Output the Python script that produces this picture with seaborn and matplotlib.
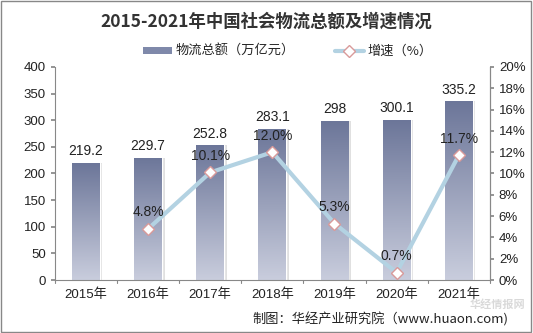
import matplotlib
matplotlib.use("Agg")
import matplotlib.pyplot as plt
import seaborn as sns
import numpy as np
import pandas as pd
from matplotlib.patches import Rectangle
from matplotlib.lines import Line2D
from matplotlib.colors import LinearSegmentedColormap

years = ["2015年", "2016年", "2017年", "2018年", "2019年", "2020年", "2021年"]
totals = [219.2, 229.7, 252.8, 283.1, 298, 300.1, 335.2]
rate_years = ["2016年", "2017年", "2018年", "2019年", "2020年", "2021年"]
rates = [4.8, 10.1, 12.0, 5.3, 0.7, 11.7]
left_ticks = [0, 50, 100, 150, 200, 250, 300, 350, 400]
right_ticks = [0, 2, 4, 6, 8, 10, 12, 14, 16, 18, 20]

sns.set_theme(style="white")
plt.rcParams['font.family'] = ['Noto Sans CJK SC', 'DejaVu Sans']
NUM = ['Liberation Sans', 'Noto Sans CJK SC']

fig = plt.figure(figsize=(5.33, 3.33), dpi=100)
ax = fig.add_axes([0.103, 0.159, 0.816, 0.64])

df = pd.DataFrame({"year": years, "total": totals})
sns.barplot(data=df, x="year", y="total", ax=ax, width=0.45, color="#7f89aa",
            saturation=1, zorder=2)

cmap = LinearSegmentedColormap.from_list("g", ["#c9cddd", "#6c7699"])
grad = np.linspace(0, 1, 256).reshape(-1, 1)
for p in ax.patches:
    x0, y0 = p.get_x(), p.get_y()
    w, h = p.get_width(), p.get_height()
    sh = Rectangle((x0 + 0.04, y0), w, h, facecolor="#000000", alpha=0.12,
                   edgecolor="none", zorder=1.5)
    ax.add_patch(sh)
    im = ax.imshow(grad, extent=[x0, x0 + w, y0, y0 + h], origin="lower",
                   cmap=cmap, aspect="auto", zorder=2.1)
    im.set_clip_path(p)
    p.set_facecolor("none")
    ax.text(x0 + w / 2, h + 9, f"{h:g}", ha="center", va="bottom",
            fontsize=10, color="#222222", zorder=5, family=NUM)

ax.set_xlim(-0.5, 6.5)
ax.set_ylim(0, 400)
ax.set_yticks(left_ticks)
ax.set_xlabel("")
ax.set_ylabel("")
ax.tick_params(axis="y", labelsize=9.5, colors="#222222", length=3, color="#888888",
               direction="out", left=True)
ax.tick_params(axis="x", labelsize=9.5, colors="#222222", length=0, pad=6)
for lab in ax.get_xticklabels() + ax.get_yticklabels():
    lab.set_family(NUM)
for b in np.arange(-0.5, 7, 1):
    ax.plot([b, b], [0, -5], color="#888888", lw=0.8, clip_on=False, zorder=3)
ax.spines["top"].set_visible(False)
for s in ["left", "bottom", "right"]:
    ax.spines[s].set_color("#888888")
    ax.spines[s].set_linewidth(0.8)

ax2 = ax.twinx()
pos = [years.index(y) for y in rate_years]
rdf = pd.DataFrame({"x": pos, "rate": rates})
sns.lineplot(data=rdf, x="x", y="rate", ax=ax2, color="#b3d2e2", lw=3,
             marker="D", markersize=6.5, markerfacecolor="white",
             markeredgecolor="#d99a9a", markeredgewidth=1.0, zorder=4)
for xi, r in zip(pos, rates):
    ax2.text(xi, r + 0.9, f"{r:.1f}%", ha="center", va="bottom", fontsize=10,
             color="#222222", zorder=6, family=NUM)
ax2.set_ylim(0, 20)
ax2.set_yticks(right_ticks)
ax2.set_yticklabels([f"{t}%" for t in right_ticks])
ax2.set_ylabel("")
ax2.set_xlabel("")
ax2.set_xlim(-0.5, 6.5)
ax2.tick_params(axis="y", labelsize=9.5, colors="#222222", length=3, color="#888888",
                direction="out", right=True)
for lab in ax2.get_yticklabels():
    lab.set_family(NUM)
for s in ["top", "left", "bottom"]:
    ax2.spines[s].set_visible(False)
ax2.spines["right"].set_color("#888888")
ax2.spines["right"].set_linewidth(0.8)

fig.text(0.5, 0.934, "2015-2021年中国社会物流总额及增速情况", ha="center", va="center",
         fontsize=12.5, fontweight="bold", color="#333333")

h1 = Rectangle((0, 0), 1, 1, facecolor="#7f89aa", edgecolor="none")
h2 = Line2D([], [], color="#b3d2e2", lw=3, marker="D", markersize=6,
            markerfacecolor="white", markeredgecolor="#d99a9a")
fig.legend([h1, h2], ["物流总额（万亿元）", "增速（%）"], loc="center",
           bbox_to_anchor=(0.54, 0.845), ncol=2, frameon=False, fontsize=9.5,
           handlelength=2.2, handleheight=0.4, columnspacing=3.0, handletextpad=0.3)

fig.text(0.953, 0.04, "制图：华经产业研究院（www.huaon.com)", ha="right", va="center",
         fontsize=9.5, color="#222222")
fig.text(0.985, 0.087, "华经情报网", ha="right", va="center", fontsize=8,
         fontweight="bold", color="#d0d0d0", alpha=0.8, zorder=0)

fig.patches.append(Rectangle((0.002, 0.003), 0.995, 0.994, transform=fig.transFigure,
                             fill=False, edgecolor="#888888", lw=1.0))

fig.savefig("out.png", dpi=100)
